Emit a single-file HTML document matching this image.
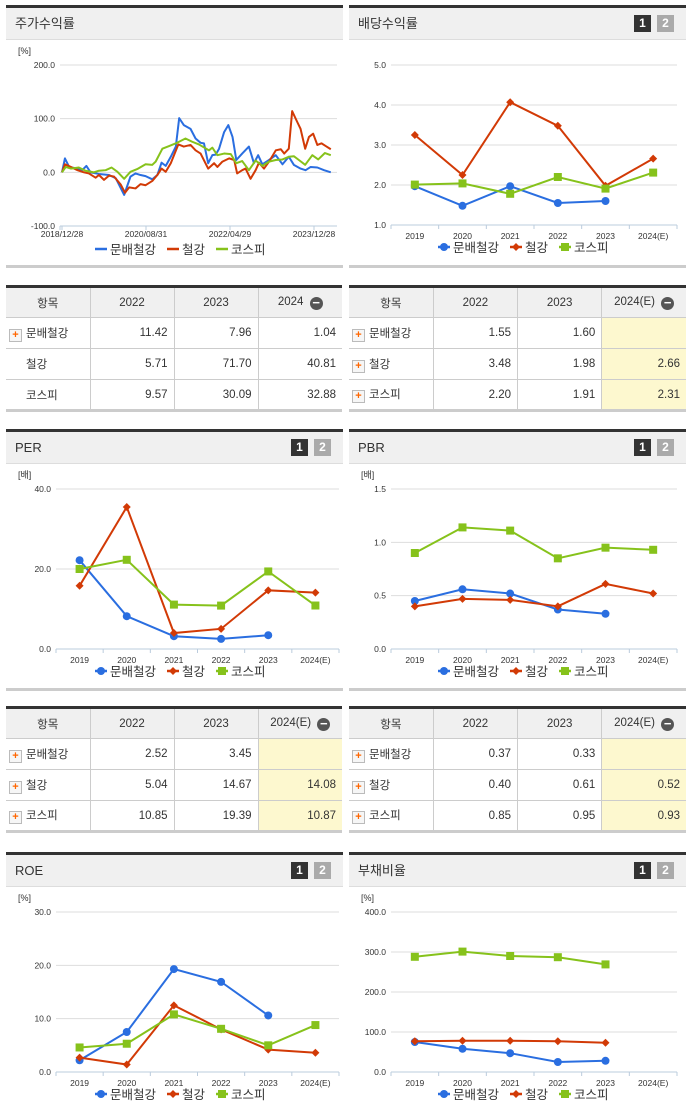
<!DOCTYPE html>
<html><head><meta charset="utf-8">
<style>
body{margin:0;width:691px;height:1115px;background:#fff;font-family:"Liberation Sans","Noto Sans CJK KR",sans-serif;position:relative;overflow:hidden}
.panel{position:absolute;width:337px}
.hdr{position:absolute;left:0;right:0;top:0;height:31px;background:#f0f0f0;border-top:3px solid #333;border-bottom:1px solid #ddd;font-size:13px;color:#333;line-height:31px;padding-left:9px;box-sizing:content-box}
.btns{position:absolute;right:12px;top:7px;line-height:17px;height:17px}
.btns span{display:inline-block;vertical-align:top;width:17px;height:17px;font-size:12px;font-weight:bold;color:#fff;text-align:center;line-height:17px;margin-left:6px}
.foot{position:absolute;left:0;right:0;height:3px;background:#ccc}
table{position:absolute;border-collapse:collapse;table-layout:fixed;font-size:11.5px;color:#333;width:336px;border-top:3px solid #333;border-bottom:3px solid #ccc}
td,th{border:1px solid #ccc;height:31px;padding:0 6px;font-weight:normal;width:84px;box-sizing:border-box}
th{background:#f0f0f0;text-align:center}
td{text-align:right}
td:first-child{text-align:left;padding-left:3px;border-left:none}
th:first-child{border-left:none}
td:last-child,th:last-child{border-right:none}
.e{background:#fdf8cf}
.pl{display:inline-block;width:11px;height:11px;border:1px solid #bbb;background:#f6f6f6;color:#f60;font-size:11px;line-height:11px;text-align:center;font-weight:bold;vertical-align:-1px;margin-right:4px}
.mi{display:inline-block;width:13px;height:13px;border-radius:50%;background:#555;color:#fff;line-height:12px;font-size:13px;font-weight:bold;vertical-align:-2px;margin-left:3px}
svg{position:absolute;left:0}
svg text{font-family:"Liberation Sans","Noto Sans CJK KR",sans-serif}
</style></head><body>

<div class="panel" style="left:6px;top:5px;height:264px">
<div class="hdr">주가수익률</div>
<svg id="c0" width="337" height="228" style="top:35px"></svg>
<div class="foot" style="top:260px"></div></div>

<div class="panel" style="left:349px;top:5px;height:264px">
<div class="hdr">배당수익률<div class="btns"><span style="background:#333">1</span><span style="background:#aaa">2</span></div></div>
<svg id="c1" width="337" height="228" style="top:35px"></svg>
<div class="foot" style="top:260px"></div></div>

<table style="left:6px;top:285px">
<tr><th>항목</th><th>2022</th><th>2023</th><th>2024 <span class="mi">−</span></th></tr>
<tr><td><span class="pl">+</span>문배철강</td><td>11.42</td><td>7.96</td><td>1.04</td></tr>
<tr><td style="padding-left:20px">철강</td><td>5.71</td><td>71.70</td><td>40.81</td></tr>
<tr><td style="padding-left:20px">코스피</td><td>9.57</td><td>30.09</td><td>32.88</td></tr></table>

<table style="left:349px;top:285px;width:337px">
<tr><th>항목</th><th>2022</th><th>2023</th><th>2024(E) <span class="mi">−</span></th></tr>
<tr><td><span class="pl">+</span>문배철강</td><td>1.55</td><td>1.60</td><td class="e"></td></tr>
<tr><td><span class="pl">+</span>철강</td><td>3.48</td><td>1.98</td><td class="e">2.66</td></tr>
<tr><td><span class="pl">+</span>코스피</td><td>2.20</td><td>1.91</td><td class="e">2.31</td></tr></table>

<div class="panel" style="left:6px;top:429px;height:264px">
<div class="hdr">PER<div class="btns"><span style="background:#333">1</span><span style="background:#aaa">2</span></div></div>
<svg id="c2" width="337" height="228" style="top:35px"></svg>
<div class="foot" style="top:259px"></div></div>

<div class="panel" style="left:349px;top:429px;height:264px">
<div class="hdr">PBR<div class="btns"><span style="background:#333">1</span><span style="background:#aaa">2</span></div></div>
<svg id="c3" width="337" height="228" style="top:35px"></svg>
<div class="foot" style="top:259px"></div></div>

<table style="left:6px;top:706px">
<tr><th>항목</th><th>2022</th><th>2023</th><th>2024(E) <span class="mi">−</span></th></tr>
<tr><td><span class="pl">+</span>문배철강</td><td>2.52</td><td>3.45</td><td class="e"></td></tr>
<tr><td><span class="pl">+</span>철강</td><td>5.04</td><td>14.67</td><td class="e">14.08</td></tr>
<tr><td><span class="pl">+</span>코스피</td><td>10.85</td><td>19.39</td><td class="e">10.87</td></tr></table>

<table style="left:349px;top:706px;width:337px">
<tr><th>항목</th><th>2022</th><th>2023</th><th>2024(E) <span class="mi">−</span></th></tr>
<tr><td><span class="pl">+</span>문배철강</td><td>0.37</td><td>0.33</td><td class="e"></td></tr>
<tr><td><span class="pl">+</span>철강</td><td>0.40</td><td>0.61</td><td class="e">0.52</td></tr>
<tr><td><span class="pl">+</span>코스피</td><td>0.85</td><td>0.95</td><td class="e">0.93</td></tr></table>

<div class="panel" style="left:6px;top:852px;height:264px">
<div class="hdr">ROE<div class="btns"><span style="background:#333">1</span><span style="background:#aaa">2</span></div></div>
<svg id="c4" width="337" height="228" style="top:35px"></svg></div>

<div class="panel" style="left:349px;top:852px;height:264px">
<div class="hdr">부채비율<div class="btns"><span style="background:#333">1</span><span style="background:#aaa">2</span></div></div>
<svg id="c5" width="337" height="228" style="top:35px"></svg></div>

<script>
// ---- data ----
const years = ["2019","2020","2021","2022","2023","2024(E)"];
const seriesNames = ["문배철강","철강","코스피"];
const divMunbae = [1.97,1.48,1.97,1.55,1.60];
const divSteel = [3.25,2.25,4.07,3.48,1.98,2.66];
const divKospi = [2.01,2.04,1.78,2.20,1.91,2.31];
const divTicks = ["1.0","2.0","3.0","4.0","5.0"];
const perMunbae = [22.2,8.2,3.2,2.52,3.45];
const perSteel = [15.8,35.5,4.0,5.04,14.67,14.08];
const perKospi = [20.0,22.3,11.1,10.85,19.39,10.87];
const perTicks = ["0.0","20.0","40.0"];
const pbrMunbae = [0.45,0.56,0.52,0.37,0.33];
const pbrSteel = [0.40,0.47,0.46,0.40,0.61,0.52];
const pbrKospi = [0.90,1.14,1.11,0.85,0.95,0.93];
const pbrTicks = ["0.0","0.5","1.0","1.5"];
const roeMunbae = [2.2,7.5,19.3,16.9,10.6];
const roeSteel = [2.7,1.4,12.5,8.0,4.2,3.6];
const roeKospi = [4.6,5.3,10.8,8.1,5.0,8.8];
const roeTicks = ["0.0","10.0","20.0","30.0"];
const debtMunbae = [75,58,47,25,28];
const debtSteel = [77,78,78,77,73];
const debtKospi = [288,301,290,287,269];
const debtTicks = ["0.0","100.0","200.0","300.0","400.0"];
// stock return: months since 2018/12/28, value %
const stockTicks = ["-100.0","0.0","100.0","200.0"];
const stockDateLabels = ["2018/12/28","2020/08/31","2022/04/29","2023/12/28"];
const stockDateMonths = [0,20,40,60];
const munbaeM = [0,0.7,1.7,3.7,4.8,5.8,6.8,8.8,11.2,12.8,14.8,16.3,17.5,18.7,19.9,21.5,22.7,23.7,24.7,25.9,27.1,27.9,29,30.6,31.8,33,33.8,34.8,35.8,36.6,37.4,38.6,39.6,40.6,41.5,42.9,44.5,45.7,46.7,47.7,49.3,50.9,52.5,54,55.2,56.8,58,59.2,60.8,62.4,64];
const munbaeV = [0,26,10,7,4,12,0,-3,-5,-11,-42,-8,-2,-5,-7,-13,-5,18,12,29,48,101,88,81,63,55,54,17,32,33,44,75,88,66,23,35,48,17,32,15,23,32,15,29,14,7,4,10,9,4,0];
const steelM = [0,0.7,2.1,3.7,5.2,6.4,8,8.8,10,11.2,12.4,14,15,16,17.5,18.7,19.9,21.5,22.7,23.7,24.7,25.9,27.7,29,30.6,31.8,33,34.8,36.2,37,38.2,39.8,41,41.7,42.9,43.7,44.9,46.1,46.9,48.1,49.3,50.9,52.1,52.9,54,54.8,56,56.8,57.9,58.8,59.8,60.8,61.8,62.8,64];
const steelV = [0,15,10,4,0,-2,-10,-5,-14,-6,-8,-23,-38,-28,-30,-22,-24,-16,-5,7,1,17,52,48,51,41,35,7,17,10,20,26,23,-2,4,7,-12,4,18,7,20,41,43,35,44,114,94,81,44,66,72,51,54,49,43];
const kospiM = [0,0.9,2.1,4,5.6,7.6,8.8,10.4,11.8,13.2,14.8,16.3,17.9,19.9,21.5,22.3,23.9,25.5,27.1,29.4,31,32.6,35,35.8,37,38.6,40.2,41.5,42.9,44.5,46.1,47.7,49.3,50.9,52.5,54,55.2,56.4,57.9,59.6,61,62.6,64];
const kospiV = [0,10,7,9,3,0,3,4,9,1,-12,1,6,15,14,20,44,49,54,63,57,52,41,46,32,35,34,17,21,4,22,12,20,23,24,29,30,23,14,32,24,36,32];

const colors = ["#2a6ee0","#d23a06","#86c21b"];
const NS = "http://www.w3.org/2000/svg";
function mk(svg, tag, attrs, txt){const e=document.createElementNS(NS,tag);for(const k in attrs)e.setAttribute(k,attrs[k]);if(txt!==undefined)e.textContent=txt;svg.appendChild(e);return e;}

function axes(svg, unit, ticks, yScale, x0, x1){
  const u=mk(svg,'text',{x:12,y:14,'font-size':9,fill:'#333'},unit);
  
  
  ticks.forEach(t=>{const y=yScale(parseFloat(t));
    const g=mk(svg,'line',{x1:x0,x2:x1,y1:y,y2:y,stroke:'#ddd'});
    
    
    const l=mk(svg,'text',{x:x0-5,y:y+3,'font-size':8.5,fill:'#333','text-anchor':'end'},t);
    
    
  });
}
function legend(svg, markers, y){
  const xs=[89,161,210];
  seriesNames.forEach((n,i)=>{
    const g=mk(svg,'g',{});
    
    
    const x=xs[i];
    mk(g,'line',{x1:x,x2:x+12,y1:y,y2:y,stroke:colors[i],'stroke-width':2.5});
    if(markers) marker(g,markers[i],x+6,y,colors[i]);
    mk(g,'text',{x:x+15,y:y+5,'font-size':12.5,fill:'#333'},n);
  });
}
function marker(svg,type,x,y,c){
  if(type==='c') return mk(svg,'circle',{cx:x,cy:y,r:4,fill:c});
  if(type==='s') return mk(svg,'rect',{x:x-4,y:y-4,width:8,height:8,fill:c});
  return mk(svg,'path',{d:`M${x} ${y-4}L${x+4} ${y}L${x} ${y+4}L${x-4} ${y}Z`,fill:c});
}
function catChart(id, unit, ticks, vmin, vmax, series, offX){
  const svg=document.getElementById(id);
  const x0=offX?42:50, x1=offX?328:333;
  const top=25, bot=top+160;
  const yS=v=>bot-(v-vmin)/(vmax-vmin)*(bot-top);
  const step=(x1-x0)/6;
  const xS=i=>x0+step*(i+0.5);
  axes(svg,unit,ticks,yS,x0,x1);
  mk(svg,'line',{x1:x0,x2:x1,y1:bot,y2:bot,stroke:'#bcd'});
  for(let i=0;i<=6;i++) mk(svg,'line',{x1:x0+step*i,x2:x0+step*i,y1:bot,y2:bot+4,stroke:'#bcd'});
  years.forEach((y,i)=>{const t=mk(svg,'text',{x:xS(i),y:bot+14,'font-size':8.5,fill:'#333','text-anchor':'middle'},y);
    
    });
  const types=['c','d','s'];
  series.forEach((vals,si)=>{
    const pts=vals.map((v,i)=>xS(i)+','+yS(v)).join(' ');
    const pl=mk(svg,'polyline',{points:pts,fill:'none',stroke:colors[si],'stroke-width':2});
    
    
    vals.forEach((v,i)=>{const m=marker(svg,types[si],xS(i),yS(v),colors[si]);
      
      });
  });
  legend(svg,types,bot+22);
}
// stock chart
(function(){
  const svg=document.getElementById('c0');
  const x0=54,x1=331,top=25,bot=186;
  const vmin=-100,vmax=200;
  const yS=v=>bot-(v-vmin)/(vmax-vmin)*(bot-top);
  const xS=m=>56+m*4.2;
  axes(svg,'[%]',stockTicks,yS,x0,x1);
  mk(svg,'line',{x1:x0,x2:x1,y1:bot,y2:bot,stroke:'#bcd'});
  mk(svg,'line',{x1:x0,x2:x0,y1:bot,y2:bot+4,stroke:'#bcd'});
  stockDateLabels.forEach((d,i)=>{const x=xS(stockDateMonths[i]);
    mk(svg,'line',{x1:x,x2:x,y1:bot,y2:bot+4,stroke:'#bcd'});
    const t=mk(svg,'text',{x:x,y:bot+11,'font-size':8.5,fill:'#333','text-anchor':'middle'},d);
    
    });
  [[munbaeM,munbaeV],[steelM,steelV],[kospiM,kospiV]].forEach((s,si)=>{
    const pts=s[0].map((m,i)=>xS(m)+','+yS(s[1][i])).join(' ');
    const pl=mk(svg,'polyline',{points:pts,fill:'none',stroke:colors[si],'stroke-width':2,'stroke-linejoin':'round'});
    
    
  });
  legend(svg,null,bot+23);
})();
catChart('c1','',divTicks,1,5,[divMunbae,divSteel,divKospi],true);
catChart('c2','[배]',perTicks,0,40,[perMunbae,perSteel,perKospi],false);
catChart('c3','[배]',pbrTicks,0,1.5,[pbrMunbae,pbrSteel,pbrKospi],true);
catChart('c4','[%]',roeTicks,0,30,[roeMunbae,roeSteel,roeKospi],false);
catChart('c5','[%]',debtTicks,0,400,[debtMunbae,debtSteel,debtKospi],true);
</script>
</body></html>
